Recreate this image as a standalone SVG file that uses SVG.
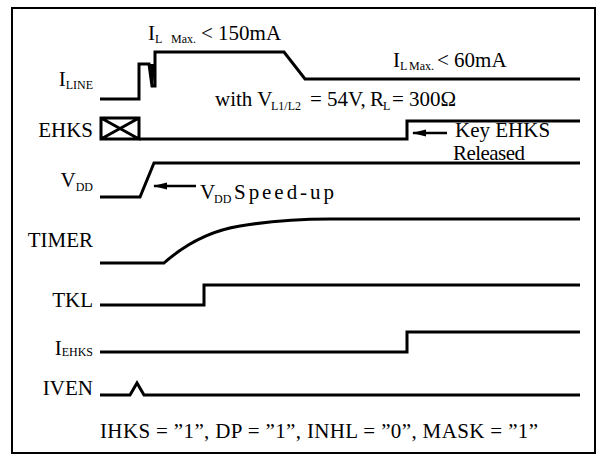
<svg xmlns="http://www.w3.org/2000/svg" width="598" height="454" viewBox="0 0 598 454">
<style>
.t{font-family:"Liberation Serif","Times New Roman",serif;font-size:21px;fill:#000}
.s{font-family:"Liberation Serif","Times New Roman",serif;font-size:12px;fill:#000}
.lab{text-anchor:end}
.w{fill:none;stroke:#000;stroke-width:3;stroke-linejoin:miter}
.ar{stroke:#000;stroke-width:2.5;fill:none}
</style>
<defs>
<marker id="ah" markerWidth="14" markerHeight="8" refX="13" refY="4" orient="auto" markerUnits="userSpaceOnUse" viewBox="0 0 14 8">
<path d="M0,0.5 L14,4 L0,7.5 Z" fill="#000"/>
</marker>
</defs>
<rect x="0" y="0" width="598" height="454" fill="#fff"/>
<rect x="12" y="8" width="583" height="445" fill="none" stroke="#000" stroke-width="2"/>

<g id="sig-iline">
<text class="t lab" x="93" y="86">I<tspan class="s" dy="3">LINE</tspan></text>
<path class="w" d="M100,99 L139,99 L139,64 L149,64 L152,86 L155,86 L155,52 L284,52 L305,79 L580,79"/>
<polygon points="148,64 155,64 153,88" fill="#000"/>
</g>

<g id="sig-ehks">
<text class="t lab" x="93" y="137">EHKS</text>
<path class="w" d="M101,118 L139,118 L139,139 L101,139 Z M101,118 L139,139 M101,139 L139,118"/>
<path class="w" d="M139,139 L407,139 L407,121 L580,121"/>
</g>

<g id="sig-vdd">
<text class="t lab" x="93" y="187">V<tspan class="s" dy="4">DD</tspan></text>
<path class="w" d="M100,197 L140,197 L154,163 L580,163"/>
</g>

<g id="sig-timer">
<text class="t lab" x="93" y="247">TIMER</text>
<path class="w" d="M100,263 L164,263 C190,240 215,230 240,226 C270,221 300,219 330,219 L580,219"/>
</g>

<g id="sig-tkl">
<text class="t lab" x="93" y="307">TKL</text>
<path class="w" d="M100,305 L204,305 L204,285 L580,285"/>
</g>

<g id="sig-iehks">
<text class="t lab" x="93" y="355">I<tspan class="s" dy="1">EHKS</tspan></text>
<path class="w" d="M100,352 L407,352 L407,332 L580,332"/>
</g>

<g id="sig-iven">
<text class="t lab" x="93" y="395">IVEN</text>
<path class="w" d="M100,395 L130,395 L137,383 L144,395 L580,395"/>
</g>

<g id="annotations">
<text class="t" x="148" y="40">I</text>
<text class="s" x="155" y="43">L</text>
<text class="s" x="171" y="43" font-size="11">Max.</text>
<text class="t" x="201" y="40" font-size="22">&lt; 150mA</text>

<text class="t" x="393" y="67">I</text>
<text class="s" x="400" y="70">L</text>
<text class="s" x="409" y="70" font-size="11">Max.</text>
<text class="t" x="437" y="67" font-size="22">&lt; 60mA</text>

<text class="t" x="215" y="106">with V</text>
<text class="s" x="271" y="110" font-size="11">L1/L2</text>
<text class="t" x="310" y="106">= 54V,</text>
<text class="t" x="370" y="106">R</text>
<text class="s" x="383" y="110" font-size="11">L</text>
<text class="t" x="392" y="106">= 300Ω</text>

<text class="t" x="200" y="199">V</text>
<text class="s" x="214" y="203">DD</text>
<text class="t" x="234" y="199" textLength="100">Speed-up</text>

<text class="t" x="455" y="137" font-size="17">Key EHKS</text>
<text class="t" x="453" y="160" font-size="17" textLength="72">Released</text>

<text class="t" x="100" y="438" font-size="20" textLength="438">IHKS = ”1”, DP = ”1”, INHL = ”0”, MASK = ”1”</text>
</g>

<g id="connectors">
<line class="ar" x1="196" y1="186" x2="154" y2="186" marker-end="url(#ah)"/>
<line class="ar" x1="447" y1="133" x2="413" y2="133" marker-end="url(#ah)"/>
</g>
</svg>
